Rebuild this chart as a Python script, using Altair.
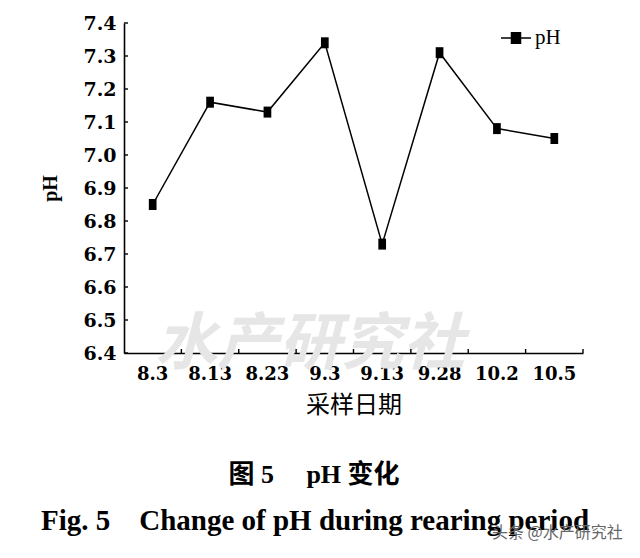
import altair as alt
import pandas as pd

dates = ["8.3", "8.13", "8.23", "9.3", "9.13", "9.28", "10.2", "10.5"]
ph_values = [6.85, 7.16, 7.13, 7.34, 6.73, 7.31, 7.08, 7.05]
y_ticks = [6.4, 6.5, 6.6, 6.7, 6.8, 6.9, 7.0, 7.1, 7.2, 7.3, 7.4]
series_name = "pH"
caption_cn = "图 5\u3000 pH 变化"
caption_en = "Fig. 5\u2003Change of pH during rearing period"
watermark_big = "水产研究社"
watermark_small = "头条 @水产研究社"

W, H = 459, 330

df = pd.DataFrame({"date": dates, "ph": ph_values, "series": [series_name] * len(dates)})
ticks_df = pd.DataFrame({"ph": y_ticks})

x_scale = alt.Scale(paddingInner=0, paddingOuter=0)
x_axis = alt.Axis(
    title="采样日期",
    labelAngle=0,
    labelFont="DejaVu Serif",
    labelFontSize=18,
    labelFontWeight="bold",
    labelColor="black",
    labelPadding=12,
    labelOverlap=False,
    tickSize=0,
    domainColor="black",
    domainWidth=1.6,
    titleFont="Noto Sans CJK SC",
    titleFontSize=24,
    titleFontWeight="normal",
    titleColor="black",
    titlePadding=10,
)
y_scale = alt.Scale(domain=[6.4, 7.4], nice=False, zero=False)
y_axis = alt.Axis(
    title="pH",
    values=y_ticks,
    format=".1f",
    grid=False,
    labelOverlap=False,
    labelFont="DejaVu Serif",
    labelFontSize=19,
    labelFontWeight="bold",
    labelColor="black",
    labelPadding=8,
    tickSize=0,
    domainColor="black",
    domainWidth=1.6,
    titleFont="Liberation Serif",
    titleFontSize=20,
    titleFontWeight="bold",
    titleColor="black",
    titlePadding=22,
)

x_enc = alt.X("date:N", sort=dates, scale=x_scale, axis=x_axis)
y_enc = alt.Y("ph:Q", scale=y_scale, axis=y_axis)

line = alt.Chart(df).mark_line(color="black", strokeWidth=1.5).encode(x=x_enc, y=y_enc)

points = alt.Chart(df).mark_point(
    shape="M-0.7,-1H0.7V1H-0.7Z", size=121, filled=True, opacity=1
).encode(
    x=x_enc,
    y=y_enc,
    color=alt.Color(
        "series:N",
        scale=alt.Scale(range=["black"]),
        legend=alt.Legend(
            title=None,
            orient="none",
            legendX=376,
            legendY=-1,
            padding=0,
            symbolType="M-1,0H1M-0.3,-0.35H0.3V0.35H-0.3Z",
            symbolSize=900,
            symbolStrokeWidth=1.5,
            symbolStrokeColor="black",
            symbolFillColor="black",
            symbolOpacity=1,
            labelFont="Liberation Serif",
            labelFontSize=21,
            labelColor="black",
            labelOffset=3,
        ),
    ),
)

xticks = alt.Chart(df).mark_rule(color="black", strokeWidth=1.4).encode(
    x=alt.X("date:N", sort=dates, bandPosition=1, axis=x_axis, scale=x_scale),
    y=alt.value(H),
    y2=alt.value(H - 4),
)

yticks = alt.Chart(ticks_df).mark_rule(color="black", strokeWidth=1.4).encode(
    y=y_enc,
    x=alt.value(0),
    x2=alt.value(4),
)

watermark = alt.Chart(pd.DataFrame({"t": [watermark_big]})).mark_text(
    font="Noto Sans CJK SC", fontSize=62, fontWeight="bold", color="#e6e6e6",
    align="center", baseline="middle", fontStyle="italic"
).encode(text="t:N", x=alt.value(186), y=alt.value(322))

corner = alt.Chart(pd.DataFrame({"t": [watermark_small]})).mark_text(
    font="Noto Sans CJK SC", fontSize=16, color="#666666", align="left", baseline="middle"
).encode(text="t:N", x=alt.value(368), y=alt.value(510))

cap1 = alt.Chart(pd.DataFrame({"t": [caption_cn]})).mark_text(
    font="Liberation Serif, Noto Sans CJK SC", fontSize=26, fontWeight="bold", color="black",
    align="center", baseline="middle"
).encode(text="t:N", x=alt.value(190), y=alt.value(452))

cap2 = alt.Chart(pd.DataFrame({"t": [caption_en]})).mark_text(
    font="Liberation Serif", fontSize=29, fontWeight="bold", color="black",
    align="center", baseline="alphabetic"
).encode(text="t:N", x=alt.value(191), y=alt.value(507))

chart = alt.layer(watermark, line, xticks, yticks, points, cap1, cap2, corner).properties(
    width=W,
    height=H,
    autosize=alt.AutoSizeParams(type="none"),
    padding={"left": 116, "top": 15, "right": 49, "bottom": 197},
).configure_view(stroke=None)

chart.save("out.html", embed_options={"renderer": "svg", "actions": False})
